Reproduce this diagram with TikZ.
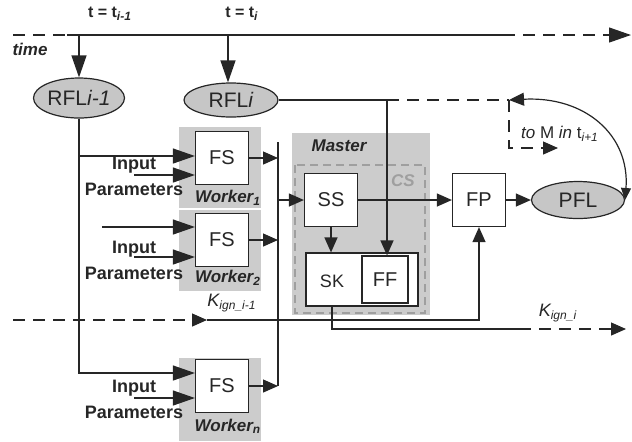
\documentclass[tikz,border=0pt]{standalone}
\usepackage{fontspec}
\setmainfont{Liberation Sans}
\usetikzlibrary{shapes.geometric,arrows.meta,positioning}

\begin{document}
\begin{tikzpicture}
    [
        x=0.5pt, y=-0.5pt, line width=0.6pt, color=black!85,
        arr/.style={-{Triangle[length=7.5pt,width=6.5pt]}},
        bigarr/.style={-{Triangle[length=11pt,width=7.5pt]}},
        dashline/.style={dash pattern=on 6pt off 4pt},
        flnode/.style={ellipse, draw, fill=gray!45, inner sep=0pt, font=\fontsize{10.5}{12}\selectfont},
        procbox/.style={rectangle, draw, fill=white, minimum width=26.5pt, minimum height=26.5pt, inner sep=0pt, font=\fontsize{10}{12}\selectfont},
        workerbg/.style={fill=gray!40},
        boldlabel/.style={font=\fontsize{8.5}{10}\selectfont\bfseries\itshape},
        inputlabel/.style={align=center, font=\fontsize{9}{13}\selectfont\bfseries},
        klabel/.style={font=\fontsize{9}{10}\selectfont\itshape}
    ]

    \useasboundingbox (0,0) rectangle (632,441);

    % grey backgrounds
    \fill [workerbg] (179,127) rectangle (261,208);
    \fill [workerbg] (179,210) rectangle (261,291);
    \fill [workerbg] (179,358) rectangle (261,441);
    \fill [workerbg] (292,133) rectangle (430,315);
    \draw [gray!75, dash pattern=on 4pt off 2.5pt] (295,165) rectangle (425,313);

    \node [flnode, minimum width=45.5pt, minimum height=20pt] (rflprev) at (79,98) {RFL\textit{i-1}};
    \node [flnode, minimum width=47pt, minimum height=17pt] (rflcur) at (231,100) {RFL\textit{i}};
    \node [flnode, minimum width=46.5pt, minimum height=18.5pt] (pfl) at (578,200) {PFL};

    \node [procbox] (fs1) at (222,158) {FS};
    \node [procbox] (fs2) at (222,240) {FS};
    \node [procbox] (fsn) at (222,386) {FS};
    \node [procbox] (ss) at (331,200) {SS};
    \node [procbox] (fp) at (479,200) {FP};
    \node [rectangle, draw, fill=white, minimum width=56pt, minimum height=26.5pt] (sk) at (362,279.5) {};
    \node [procbox, minimum width=23pt, minimum height=23.5pt] (ff) at (385,279.5) {FF};
    \node [font=\fontsize{9}{10}\selectfont] (sktext) at (332,281) {SK};

    \node [font=\fontsize{8}{10}\selectfont\bfseries] (tprevlbl) at (110,14) {t = t\textsubscript{\textit{i-1}}};
    \node [font=\fontsize{8}{10}\selectfont\bfseries] (tcurlbl) at (242,14) {t = t\textsubscript{\textit{i}}};
    \node [boldlabel] (timelbl) at (30,49) {time};
    \node [boldlabel] (masterlbl) at (339,146) {Master};
    \node [boldlabel, gray!75] (cslbl) at (403,181) {CS};
    \node [boldlabel] (wk1lbl) at (228,198) {Worker\textsubscript{1}};
    \node [boldlabel] (wk2lbl) at (228,278) {Worker\textsubscript{2}};
    \node [boldlabel] (wknlbl) at (228,426) {Worker\textsubscript{n}};
    \node [inputlabel] (ip1) at (134,176) {Input\\Parameters};
    \node [inputlabel] (ip2) at (134,260) {Input\\Parameters};
    \node [inputlabel] (ipn) at (134,399) {Input\\Parameters};
    \node [klabel] (kprevlbl) at (232,303) {K\textsubscript{ign\_i-1}};
    \node [klabel] (kcurlbl) at (558,313) {K\textsubscript{ign\_i}};
    \node [font=\fontsize{8.5}{10}\selectfont] (tomlbl) at (560,134) {\textit{to} M \textit{in} t\textsubscript{\textit{i+1}}};

    % time axis
    \coordinate (tstart) at (13,35);
    \coordinate (tsolid) at (67,35);
    \coordinate (tprev) at (79,35);
    \coordinate (tcur) at (228,35);
    \coordinate (tdash) at (503,35);
    \coordinate (tend) at (631,35);
    \draw [dashline] (tstart) -- (tsolid);
    \draw (tsolid) -- (tdash);
    \draw [dashline, bigarr] (tdash) -- (tend);
    \draw [bigarr] (tprev) -- (rflprev.north);
    \draw [bigarr] (tcur) -- (tcur |- rflcur.north);

    % RFL_i to FF and feedback
    \coordinate (ffsplit) at (387,100);
    \coordinate (fbk) at (509,100);
    \coordinate (tom) at (558,148);
    \draw (rflcur.east) -- (ffsplit);
    \draw [dashline] (ffsplit) -- (fbk);
    \draw [arr] (ffsplit) -- (ffsplit |- ff.north);
    \draw [dashline, arr] (fbk) |- (tom);
    \draw [{Triangle[length=7.5pt,width=6.5pt]}-{Triangle[length=6pt,width=5pt]}] (fbk) .. controls (585,96) and (630,135) .. (pfl.east);

    % workers to master
    \coordinate (bustop) at (278,142);
    \coordinate (busbot) at (278,386);
    \draw (bustop) -- (busbot);
    \draw [arr] (fs1.east) -- (fs1.east -| bustop);
    \draw [arr] (fs2.east) -- (fs2.east -| bustop);
    \draw [arr] (fsn.east) -- (fsn.east -| bustop);
    \draw [arr] (ss.west -| bustop) -- (ss.west);
    \draw [arr] (ss.east) -- (fp.west);
    \draw [arr] (fp.east) -- (pfl.west);
    \draw [arr] (ss.south) -- (ss.south |- sk.north);

    % inputs of the workers
    \coordinate (fs1a) at ([yshift=1pt]fs1.west);
    \coordinate (fs1b) at ([yshift=-8.5pt]fs1.west);
    \coordinate (fs2a) at ([yshift=6.5pt]fs2.west);
    \coordinate (fs2b) at ([yshift=-8.5pt]fs2.west);
    \coordinate (fsna) at ([yshift=6.5pt]fsn.west);
    \coordinate (fsnb) at ([yshift=-6pt]fsn.west);
    \draw [bigarr] (rflprev.south) |- (fsna);
    \draw [bigarr] (fs1a -| rflprev.south) -- (fs1a);
    \draw [bigarr] ([xshift=-46.5pt]fs2a) -- (fs2a);
    \draw [bigarr] (fs1b -| ip1) -- (fs1b);
    \draw [bigarr] (fs2b -| ip2) -- (fs2b);
    \draw [bigarr] (fsnb -| ipn) -- (fsnb);

    % K_ign lines
    \coordinate (kstart) at (13,320);
    \coordinate (kmid) at (207,320);
    \coordinate (kout) at (519,329);
    \coordinate (kend) at (626,329);
    \draw [dashline, arr] (kstart) -- (kmid);
    \draw [arr] (kmid) -| (fp.south);
    \draw (sktext |- sk.south) |- (kout);
    \draw [dashline, arr] (kout) -- (kend);

\end{tikzpicture}
\end{document}
